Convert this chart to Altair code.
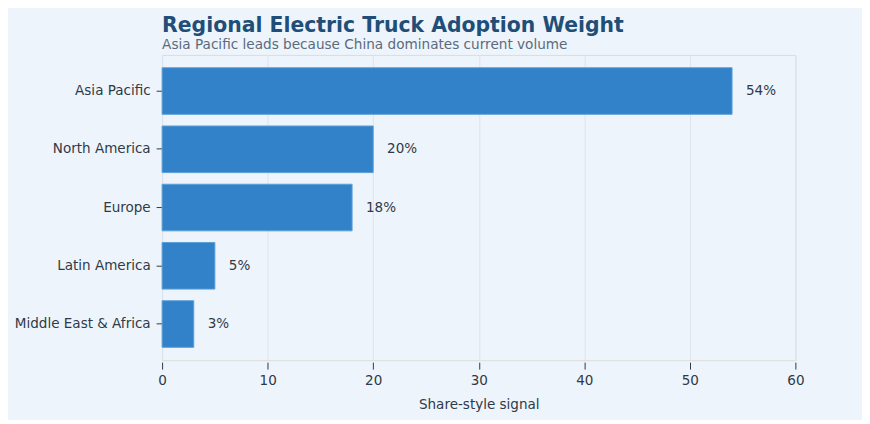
import altair as alt
import pandas as pd

regions = ["Asia Pacific", "North America", "Europe", "Latin America", "Middle East & Africa"]
shares = [54, 20, 18, 5, 3]
labels = ["54%", "20%", "18%", "5%", "3%"]

df = pd.DataFrame({"region": regions, "share": shares, "label": labels})

font = "DejaVu Sans"
ink = "#2e3a46"
bg = "#eef4fb"

base = alt.Chart(df).encode(
    y=alt.Y("region:N", sort=regions, title=None,
            scale=alt.Scale(paddingInner=0.2, paddingOuter=0.22),
            axis=alt.Axis(domain=False, ticks=True, tickSize=6, tickColor=ink,
                          labelFontSize=13.6, labelColor=ink, labelFont=font,
                          labelPadding=6, grid=False)),
)

bars = base.mark_bar(color="#3182c8", stroke="#5d9fd8", strokeWidth=1).encode(
    x=alt.X("share:Q", title="Share-style signal",
            scale=alt.Scale(domain=[0, 60], nice=False),
            axis=alt.Axis(values=[0, 10, 20, 30, 40, 50, 60], domain=False, tickSize=7,
                          tickColor=ink, offset=2, grid=True, gridColor="#dce4ee",
                          labelFlush=False,
                          labelFontSize=13.6, labelColor=ink, labelFont=font,
                          titleFontSize=13.6, titleFontWeight="normal", titleColor=ink,
                          titleFont=font, titlePadding=10, labelPadding=5)),
)

text = base.mark_text(align="left", baseline="middle", dx=14, fontSize=13.6,
                      font=font, color=ink).encode(
    x="share:Q",
    text="label:N",
)

chart = (bars + text).properties(
    width=637,
    height=307,
    background=bg,
    padding={"left": 6, "top": 6, "right": 58, "bottom": 7},
    title=alt.TitleParams(
        text="Regional Electric Truck Adoption Weight",
        subtitle="Asia Pacific leads because China dominates current volume",
        anchor="start",
        frame="group",
        font=font,
        fontSize=20.5,
        fontWeight="bold",
        color="#1f4e79",
        subtitleFont=font,
        subtitleFontSize=13.7,
        subtitleColor="#5b6b7b",
        subtitlePadding=2,
        offset=3,
    ),
).configure_view(stroke=None).configure(background=bg)

chart.save("out.html", embed_options={"renderer": "svg", "actions": False})
